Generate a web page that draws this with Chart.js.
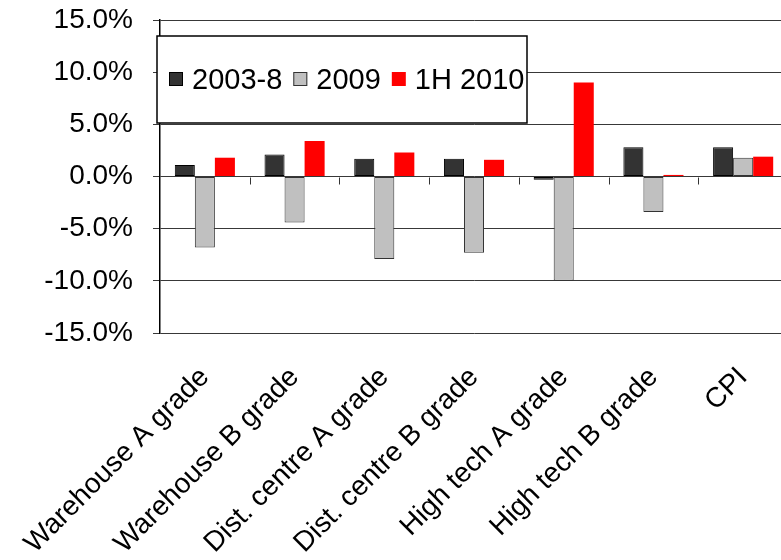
<!DOCTYPE html>
<html>
<head>
<meta charset="utf-8">
<script src="https://cdn.jsdelivr.net/npm/chart.js@4/dist/chart.umd.min.js"></script>
<style>
  html, body { margin: 0; padding: 0; background: #fff; overflow: hidden; width: 781px; height: 560px; }
  #wrap { position: absolute; left: 0; top: 0; width: 788px; height: 560px; }
</style>
</head>
<body>
<div id="wrap"><canvas id="c" width="788" height="560"></canvas></div>
<script>
const categories = ["Warehouse A grade", "Warehouse B grade", "Dist. centre A grade", "Dist. centre B grade", "High tech A grade", "High tech B grade", "CPI"];
const seriesNames = ["2003-8", "2009", "1H 2010"];
const values2003_8 = [1.1, 2.1, 1.7, 1.7, -0.3, 2.8, 2.8];
const values2009 = [-6.8, -4.4, -7.9, -7.3, -10.0, -3.4, 1.8];
const values1H2010 = [1.8, 3.4, 2.3, 1.6, 9.0, 0.15, 1.9];
const yTicks = [-15, -10, -5, 0, 5, 10, 15];

const FONT = "'Liberation Sans', Arial, sans-serif";

// category-boundary tick marks hanging below the zero line (Excel style)
const zeroTicks = {
  id: 'zeroTicks',
  afterDatasetsDraw(chart, args, opts) {
    const xs = chart.scales.x, ys = chart.scales.y;
    const y0 = Math.round(ys.getPixelForValue(0)) + 0.5;
    const ctx = chart.ctx;
    ctx.save();
    ctx.strokeStyle = opts.color;
    ctx.lineWidth = opts.width;
    ctx.beginPath();
    for (let i = 0; i < categories.length - 1; i++) {
      const px = Math.round((xs.getPixelForTick(i) + xs.getPixelForTick(i + 1)) / 2) + 0.5;
      ctx.moveTo(px, y0);
      ctx.lineTo(px, y0 + opts.length);
    }
    ctx.stroke();
    ctx.restore();
  }
};

const boxLegend = {
  id: 'boxLegend',
  afterDraw(chart, args, opts) {
    const ctx = chart.ctx;
    ctx.save();
    ctx.fillStyle = '#fff';
    ctx.fillRect(opts.x, opts.y, opts.w, opts.h);
    ctx.strokeStyle = '#000';
    ctx.lineWidth = 1.5;
    ctx.strokeRect(opts.x, opts.y, opts.w, opts.h);
    ctx.font = opts.fontSize + 'px ' + FONT;
    ctx.textBaseline = 'alphabetic';
    ctx.textAlign = 'left';
    let x = opts.x + opts.padLeft;
    const sq = opts.square;
    chart.data.datasets.forEach(ds => {
      ctx.fillStyle = ds.backgroundColor;
      ctx.fillRect(x, opts.sqTop, sq, sq);
      if (ds.borderWidth > 0) {
        ctx.strokeStyle = ds.borderColor;
        ctx.lineWidth = 1;
        ctx.strokeRect(x + 0.5, opts.sqTop + 0.5, sq - 1, sq - 1);
      }
      const tx = x + sq + opts.gapText;
      ctx.fillStyle = '#000';
      ctx.fillText(ds.label, tx, opts.baseline);
      x = tx + ctx.measureText(ds.label).width + opts.gapItem;
    });
    ctx.restore();
  }
};

new Chart(document.getElementById('c'), {
  type: 'bar',
  data: {
    labels: categories,
    datasets: [
      { label: seriesNames[0], data: values2003_8, backgroundColor: '#333333', borderColor: '#000000', borderWidth: 1, borderSkipped: false },
      { label: seriesNames[1], data: values2009, backgroundColor: '#c0c0c0', borderColor: '#333333', borderWidth: 1, borderSkipped: false },
      { label: seriesNames[2], data: values1H2010, backgroundColor: '#ff0000', borderColor: '#ff0000', borderWidth: 0, borderSkipped: false }
    ]
  },
  options: {
    responsive: false,
    animation: false,
    layout: { padding: { top: 20, left: 0, right: 0, bottom: 0 } },
    datasets: { bar: { categoryPercentage: 0.67, barPercentage: 1.0 } },
    plugins: {
      legend: { display: false },
      tooltip: { enabled: false },
      zeroTicks: { color: '#333', width: 1, length: 7 },
      boxLegend: { x: 157, y: 36, w: 370, h: 87, padLeft: 12, square: 14, sqTop: 72, gapText: 9, gapItem: 11, baseline: 89, fontSize: 29 }
    },
    scales: {
      x: {
        type: 'category',
        offset: true,
        grid: { display: false, drawTicks: false },
        border: { display: false },
        ticks: {
          autoSkip: false, maxRotation: 45, minRotation: 45,
          color: '#000', padding: 28,
          font: { family: FONT, size: 28 }
        },
        afterFit(scale) { scale.height = 227; scale.paddingLeft = 0; scale.paddingRight = 0; }
      },
      y: {
        min: -15, max: 15,
        afterBuildTicks(scale) { scale.ticks = yTicks.map(v => ({ value: v })); },
        grid: { color: '#383838', lineWidth: 1, tickLength: 7, drawTicks: true },
        border: { display: true, color: '#000', width: 1.5 },
        ticks: {
          color: '#000', padding: 20,
          font: { family: FONT, size: 28 },
          callback: v => Number(v).toFixed(1) + '%'
        },
        afterFit(scale) { scale.width = 160; scale.paddingTop = 0; scale.paddingBottom = 0; }
      }
    }
  },
  plugins: [zeroTicks, boxLegend]
});
</script>
</body>
</html>
